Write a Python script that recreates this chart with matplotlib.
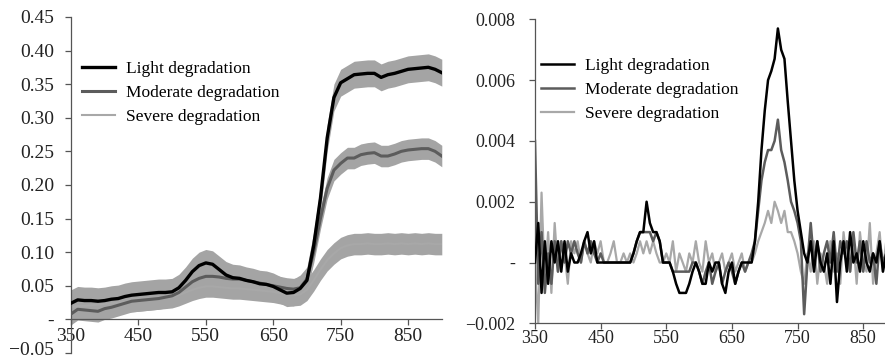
import numpy as np
import matplotlib
matplotlib.use("Agg")
import matplotlib.pyplot as plt
import matplotlib.transforms as mtransforms

plt.rcParams['font.family'] = ['Liberation Serif', 'DejaVu Serif']

# ---- left panel: mean reflectance spectra (10 nm step) ----
wl_refl = list(range(350, 901, 10))
refl_light = [0.024, 0.029, 0.028, 0.028, 0.027, 0.028, 0.030, 0.031, 0.034, 0.036,
              0.037, 0.038, 0.039, 0.040, 0.040, 0.041, 0.047, 0.058, 0.071, 0.080,
              0.084, 0.082, 0.074, 0.066, 0.062, 0.061, 0.058, 0.056, 0.053, 0.052,
              0.049, 0.044, 0.039, 0.040, 0.046, 0.058, 0.110, 0.180, 0.270, 0.330,
              0.352, 0.358, 0.364, 0.365, 0.366, 0.366, 0.360, 0.364, 0.366, 0.369,
              0.372, 0.373, 0.374, 0.375, 0.372, 0.367]
refl_moderate = [0.008, 0.015, 0.014, 0.013, 0.012, 0.016, 0.018, 0.021, 0.024, 0.027,
                 0.028, 0.029, 0.030, 0.031, 0.033, 0.035, 0.040, 0.048, 0.056, 0.061,
                 0.064, 0.064, 0.063, 0.061, 0.060, 0.060, 0.058, 0.056, 0.054, 0.052,
                 0.050, 0.048, 0.046, 0.045, 0.047, 0.060, 0.100, 0.150, 0.195, 0.222,
                 0.232, 0.240, 0.240, 0.245, 0.247, 0.248, 0.243, 0.243, 0.246, 0.250,
                 0.252, 0.253, 0.254, 0.254, 0.250, 0.243]
refl_severe = [0.018, 0.020, 0.020, 0.021, 0.022, 0.023, 0.024, 0.025, 0.026, 0.027,
               0.028, 0.029, 0.030, 0.031, 0.032, 0.033, 0.036, 0.040, 0.044, 0.047,
               0.049, 0.049, 0.048, 0.047, 0.046, 0.046, 0.045, 0.044, 0.043, 0.042,
               0.041, 0.039, 0.037, 0.036, 0.037, 0.044, 0.058, 0.074, 0.088, 0.098,
               0.106, 0.110, 0.112, 0.112, 0.113, 0.112, 0.112, 0.113, 0.112, 0.113,
               0.112, 0.113, 0.112, 0.113, 0.112, 0.112]
std_light = 0.020
std_moderate = 0.016
std_severe = 0.016

# ---- right panel: first derivative (5 nm step), units of 1e-3 ----
wl_deriv = list(range(350, 901, 5))
d_light = [0.0, 1.3, -1.0, 0.7, -0.7, 0.7, 0.0, 0.7, -0.3, 0.7,
           -0.3, 0.3, 0.0, 0.0, 0.3, 0.7, 1.0, 0.3, 0.7, 0.0,
           0.0, 0.0, 0.0, 0.0, 0.0, 0.0, 0.0, 0.0, 0.0, 0.0,
           0.3, 0.7, 1.0, 1.0, 2.0, 1.3, 1.0, 1.0, 0.7, 0.0,
           0.0, 0.0, -0.3, -0.7, -1.0, -1.0, -1.0, -0.7, -0.3, 0.0,
           -0.3, -0.7, -0.7, 0.0, -0.3, 0.0, 0.0, -0.7, -1.0, -0.3,
           0.0, -0.7, -0.3, 0.0, 0.0, 0.0, 0.0, 0.7, 2.0, 3.7,
           5.0, 6.0, 6.3, 6.7, 7.7, 7.0, 6.7, 5.3, 4.0, 2.7,
           1.7, 1.0, 0.3, 0.0, 0.7, -0.3, 0.7, 0.0, -0.3, 0.3,
           -0.7, 0.7, -1.3, 0.0, 0.7, -0.3, 1.0, 0.0, 0.3, -0.3,
           0.7, 0.0, -0.3, 0.3, 0.0, 0.7, -0.3, 0.3, 0.0, -0.3,
           0.0]
d_moderate = [4.0, -0.7, 1.0, -1.0, 0.3, -0.7, 0.7, -0.3, 0.7, 0.0,
              0.7, 0.3, 0.7, 0.3, 0.0, 0.7, 0.3, 0.7, 0.3, 0.0,
              0.3, 0.0, 0.0, 0.0, 0.0, 0.0, 0.0, 0.0, 0.0, 0.0,
              0.3, 0.7, 1.0, 1.0, 1.0, 1.0, 0.7, 1.0, 0.7, 0.0,
              0.0, 0.0, -0.3, -0.3, -0.3, -0.3, -0.3, -0.3, 0.0, 0.0,
              -0.3, -0.7, -0.3, 0.0, -0.7, -0.3, 0.0, -0.7, -0.3, 0.0,
              -0.3, -0.7, -0.3, 0.0, -0.3, 0.0, 0.3, 0.7, 1.7, 2.7,
              3.3, 3.7, 3.7, 4.0, 4.7, 3.7, 3.3, 2.7, 2.0, 1.7,
              1.3, 0.7, -1.7, 0.0, 1.3, 0.0, 0.7, -0.3, 0.3, 0.7,
              0.0, 1.0, -0.3, 0.7, 0.3, 0.7, -0.3, 1.0, 0.0, 0.7,
              -0.3, 0.7, 0.0, 0.3, -0.7, 0.7, 0.0, 0.3, -0.3, 0.7,
              0.0]
d_severe = [0.0, -2.0, 2.3, -0.7, 1.0, -1.0, 1.3, -0.3, 0.7, 0.3,
            -0.7, 0.7, 0.3, 0.7, 0.0, 0.7, 0.3, 0.0, 0.7, 0.3,
            0.7, 0.0, 0.0, 0.3, 0.7, 0.0, 0.0, 0.3, 0.0, 0.3,
            0.0, 0.3, 0.7, 0.3, 0.7, 0.3, 0.7, 0.3, 0.0, 0.0,
            0.3, 0.0, 0.7, -0.3, 0.3, 0.0, -0.3, 0.3, 0.0, 0.7,
            0.0, -0.3, 0.7, 0.0, 0.3, -0.3, 0.0, 0.3, -0.3, 0.0,
            0.3, -0.3, 0.0, 0.3, -0.3, 0.0, 0.0, 0.3, 0.7, 1.0,
            1.3, 1.7, 1.3, 2.0, 1.7, 1.3, 1.7, 1.0, 1.0, 0.7,
            0.3, -0.3, -0.7, 0.3, -0.3, 0.7, -0.7, 0.3, 0.0, -0.7,
            0.7, -0.3, 0.3, -0.7, 1.0, 0.0, -0.3, 0.7, -0.7, 1.0,
            0.0, -0.3, 1.3, -0.7, 0.3, 1.0, -0.3, 0.7, 0.0, 1.0,
            -0.3]

labels = ["Light degradation", "Moderate degradation", "Severe degradation"]
col_light = "#000000"
col_mod = "#5c5c5c"
col_sev = "#a8a8a8"
col_band = "#a4a4a4"

fig = plt.figure(figsize=(8.85, 3.61), dpi=100)

# ---------------- left ----------------
ax1 = fig.add_axes([0.0802, 0.0222, 0.419, 0.931])
wl = np.array(wl_refl)
for m, s in [(refl_light, std_light), (refl_moderate, std_moderate), (refl_severe, std_severe)]:
    m = np.array(m)
    ax1.fill_between(wl, m - s, m + s, color=col_band, lw=0, zorder=1)
ax1.plot(wl, refl_severe, color=col_sev, lw=1.5, zorder=2, label=labels[2])
ax1.plot(wl, refl_moderate, color=col_mod, lw=2.2, zorder=3, label=labels[1])
ax1.plot(wl, refl_light, color=col_light, lw=2.4, zorder=4, label=labels[0])

ax1.set_xlim(350, 900)
ax1.set_ylim(-0.05, 0.45)
ax1.spines['top'].set_visible(False)
ax1.spines['right'].set_visible(False)
ax1.spines['bottom'].set_position(('data', 0))
for sp in ax1.spines.values():
    sp.set_color("#555555")
    sp.set_linewidth(0.9)
ax1.set_xticks([350, 450, 550, 650, 750, 850])
yt = [-0.05, 0, 0.05, 0.10, 0.15, 0.20, 0.25, 0.30, 0.35, 0.40, 0.45]
ax1.set_yticks(yt)
ax1.set_yticklabels(["\u22120.05", "-"] + ["%.2f" % v for v in yt[2:]])
ax1.tick_params(axis='both', direction='out', length=4, width=0.9, color="#555555",
                labelsize=14, labelcolor="#222222")
ax1.tick_params(axis='x', pad=2)
ax1.tick_params(axis='y', pad=8)
for t in ax1.get_yticklabels():
    t.set_va('center_baseline')
# lift the lowest label a little so it stays inside the figure
low = ax1.get_yticklabels()[0]
low.set_transform(low.get_transform() + mtransforms.ScaledTranslation(0, 3 / 72, fig.dpi_scale_trans))
h, l = ax1.get_legend_handles_labels()
ax1.legend(h[::-1], l[::-1], loc='upper left', bbox_to_anchor=(0.03, 0.868),
           frameon=False, fontsize=12.5, handlelength=1.9, handletextpad=0.6,
           labelspacing=0.45, borderpad=0, borderaxespad=0)

# ---------------- right ----------------
ax2 = fig.add_axes([0.6045, 0.1044, 0.408, 0.842])
wd = np.array(wl_deriv)
ax2.plot(wd, np.array(d_severe) * 1e-3, color=col_sev, lw=1.6, zorder=2, label=labels[2])
ax2.plot(wd, np.array(d_moderate) * 1e-3, color=col_mod, lw=1.8, zorder=3, label=labels[1])
ax2.plot(wd, np.array(d_light) * 1e-3, color=col_light, lw=1.8, zorder=4, label=labels[0])
ax2.set_xlim(350, 900)
ax2.set_ylim(-0.002, 0.008)
ax2.spines['top'].set_visible(False)
ax2.spines['right'].set_visible(False)
for sp in ax2.spines.values():
    sp.set_color("#555555")
    sp.set_linewidth(0.9)
ax2.set_xticks([350, 450, 550, 650, 750, 850])
yt2 = [-0.002, 0, 0.002, 0.004, 0.006, 0.008]
ax2.set_yticks(yt2)
ax2.set_yticklabels(["\u22120.002", "-"] + ["%.3f" % v for v in yt2[2:]])
ax2.tick_params(axis='both', direction='out', length=4, width=0.9, color="#555555",
                labelsize=13, labelcolor="#222222")
ax2.tick_params(axis='x', pad=1)
ax2.tick_params(axis='y', pad=10)
h, l = ax2.get_legend_handles_labels()
ax2.legend(h[::-1], l[::-1], loc='upper left', bbox_to_anchor=(0.017, 0.872),
           frameon=False, fontsize=12.5, handlelength=1.9, handletextpad=0.6,
           labelspacing=0.45, borderpad=0, borderaxespad=0)

fig.savefig("out.png", dpi=100)
